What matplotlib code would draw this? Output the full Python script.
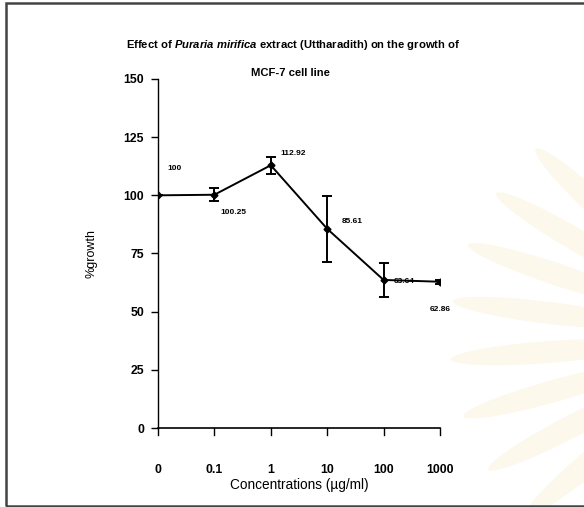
import numpy as np
import matplotlib
matplotlib.use("Agg")
import matplotlib.pyplot as plt
from matplotlib.patches import Rectangle, Ellipse

plt.rcParams['font.family'] = ['Liberation Sans', 'DejaVu Sans']
plt.rcParams['mathtext.fontset'] = 'custom'
plt.rcParams['mathtext.it'] = 'Liberation Sans:italic:bold'
plt.rcParams['mathtext.rm'] = 'Liberation Sans:bold'

# data
conc_labels = ['0', '0.1', '1', '10', '100', '1000']
growth = [100, 100.25, 112.92, 85.61, 63.64, 62.86]
err = [0, 2.8, 3.6, 14.2, 7.3, 0.8]
value_labels = ['100', '100.25', '112.92', '85.61', '63.64', '62.86']
# label offsets (in category units, % units)
lab_dx = [0.3, 0.33, 0.4, 0.45, 0.36, 0.0]
lab_dy = [11.5, -7.5, 5.0, 3.0, -0.5, -12.0]

fig = plt.figure(figsize=(5.84, 5.07), dpi=100)

# faint emblem watermark from the scanned page (right edge, rays pointing left)
cx, cy = 720, 170   # pixels from bottom-left
for ang in np.arange(120, 236, 13):
    r = np.radians(ang)
    px = cx + 175 * np.cos(r)
    py = cy + 175 * np.sin(r)
    fig.patches.append(Ellipse((px / 584, py / 507), 190 / 584, 22 / 507, angle=ang,
                               transform=fig.transFigure, facecolor='#fcf4e0',
                               edgecolor='none', alpha=0.6, zorder=0))

ax = fig.add_axes([0.2705, 0.1558, 0.4829, 0.6884])
ax.patch.set_alpha(0)

x = np.arange(len(conc_labels))
ax.errorbar(x, growth, yerr=err, color='black', lw=1.4, marker='D', ms=3.5,
            elinewidth=1.4, capsize=3.5, capthick=1.4)

for xi, yi, s, dx, dy in zip(x, growth, value_labels, lab_dx, lab_dy):
    ax.text(xi + dx, yi + dy, s, fontsize=6, fontweight='bold',
            ha='center', va='center')

ax.set_xlim(0, 5)
ax.set_ylim(0, 150)
ax.set_yticks(np.arange(0, 151, 25))
ax.set_xticks(x)
ax.set_xticklabels(conc_labels)
ax.spines['top'].set_visible(False)
ax.spines['right'].set_visible(False)
ax.spines['left'].set_linewidth(1.0)
ax.spines['bottom'].set_linewidth(1.2)
ax.tick_params(axis='y', direction='out', length=5, width=1, pad=5, labelsize=8.8)
ax.tick_params(axis='x', direction='in', length=0, pad=26, labelsize=8.8)
for lab in ax.get_xticklabels() + ax.get_yticklabels():
    lab.set_fontweight('bold')
# x tick marks hang below the axis (the one at 0 included)
for xi in x:
    ax.plot([xi, xi], [0, -3], color='black', lw=1, clip_on=False)

ax.set_xlabel('Concentrations (\u00b5g/ml)', fontsize=9.8, labelpad=1)
ax.set_ylabel('%growth', fontsize=9, labelpad=19)

fig.text(0.502, 0.911, r'Effect of $\mathit{Puraria\ mirifica}$ extract (Uttharadith) on the growth of',
         ha='center', va='center', fontsize=8.1, fontweight='bold')
fig.text(0.498, 0.856, 'MCF-7 cell line', ha='center', va='center',
         fontsize=8.1, fontweight='bold')

# scan frame
fig.patches.append(Rectangle((6 / 584, 1 / 507), 1.0, 503 / 507, transform=fig.transFigure,
                             fill=False, edgecolor='#444444', lw=1.8))

fig.savefig('out.png', dpi=100)
